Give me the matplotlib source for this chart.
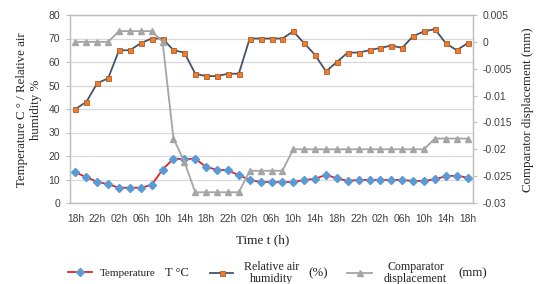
import matplotlib
matplotlib.use('Agg')
import matplotlib.pyplot as plt
import numpy as np

time_labels = ['18h', '22h', '02h', '06h', '10h', '14h'] * 3 + ['18h']
temperature = [13, 11, 9, 8, 6.5, 6.5, 6.5, 7.7, 14.2, 18.9,
               18.6, 18.9, 15.3, 14.2, 13.9, 11.8, 9.9, 8.9, 8.9, 8.9,
               8.9, 9.8, 10.3, 12.0, 10.5, 9.4, 9.8, 9.8, 9.8, 9.8,
               9.8, 9.4, 9.4, 10.1, 11.4, 11.6, 10.8]
humidity = [40, 43, 51, 53, 65, 65, 68, 70, 70, 65,
            64, 55, 54, 54, 55, 55, 70, 70, 70, 70,
            73, 68, 63, 56, 60, 64, 64, 65, 66, 67,
            66, 71, 73, 74, 68, 65, 68]
displacement = [0, 0, 0, 0, 0.002, 0.002, 0.002, 0.002, 0, -0.018,
                -0.0223, -0.028, -0.028, -0.028, -0.028, -0.028, -0.024, -0.024, -0.024, -0.024,
                -0.020, -0.020, -0.020, -0.020, -0.020, -0.020, -0.020, -0.020, -0.020, -0.020,
                -0.020, -0.020, -0.020, -0.018, -0.018, -0.018, -0.018]
left_ticks = [0, 10, 20, 30, 40, 50, 60, 70, 80]
right_ticks = [-0.03, -0.025, -0.02, -0.015, -0.01, -0.005, 0, 0.005]
right_tick_labels = ['-0.03', '-0.025', '-0.02', '-0.015', '-0.01', '-0.005', '0', '0.005']
legend_labels = ['Temperature', 'Relative air\nhumidity', 'Comparator\ndisplacement']
legend_units = ['T °C', '(%)', '(mm)']

SANS = ['Liberation Sans', 'DejaVu Sans']
SERIF = ['Liberation Serif', 'DejaVu Serif']
TICKC = '#404040'
TXTC = '#222222'

W, H = 543, 284
fig = plt.figure(figsize=(W / 100, H / 100), dpi=100)
ax = fig.add_axes([70 / W, 1 - 203 / H, 403 / W, 188 / H])
x = np.arange(len(humidity))

ax.set_xlim(-0.5, len(humidity) - 0.5)
ax.set_ylim(0, 80)
ax.set_yticks(left_ticks)
ax.grid(axis='y', color='#d9d9d9', lw=0.9)
ax.set_axisbelow(True)
for s in ax.spines.values():
    s.set_color('#bfbfbf')
    s.set_linewidth(0.9)

l1, = ax.plot(x, temperature, color='#e8201f', lw=1.3, marker='D', ms=3.8,
              mfc='#5b9bd5', mec='#5b9bd5', zorder=3)
l2, = ax.plot(x, humidity, color='#44546a', lw=1.3, marker='s', ms=3.6,
              mfc='#ed7d31', mec='#b55a1d', mew=0.6, zorder=3)

ax.set_xticks(x[::2])
ax.set_xticklabels(time_labels, family=SANS, fontsize=7.4, color=TICKC)
ax.tick_params(axis='x', length=0, pad=8)
ax.tick_params(axis='y', length=3, color='#bfbfbf', labelsize=7.5, labelcolor=TICKC, pad=4)
for t in ax.get_yticklabels():
    t.set_family(SANS)

ax2 = ax.twinx()
ax2.set_ylim(-0.03, 0.005)
ax2.set_yticks(right_ticks)
ax2.set_yticklabels(right_tick_labels, family=SANS, fontsize=7.5, color=TICKC)
ax2.tick_params(axis='y', length=3, color='#bfbfbf', pad=4)
for s in ax2.spines.values():
    s.set_color('#bfbfbf')
    s.set_linewidth(0.9)
l3, = ax2.plot(x, displacement, color='#a5a5a5', lw=1.3, marker='^', ms=4.5,
               mfc='#a5a5a5', mec='#a5a5a5', zorder=3)

fig.text(263 / W, 1 - 240 / H, 'Time t (h)', family=SERIF, fontsize=9.5,
         ha='center', va='center', color=TXTC)
fig.text(29 / W, 1 - 110 / H, 'Temperature C ° / Relative air\nhumidity %', family=SERIF,
         fontsize=9.3, rotation=90, ha='center', va='center', ma='center',
         color=TXTC, linespacing=1.15)
fig.text(528 / W, 1 - 110 / H, 'Comparator displacement (mm)', family=SERIF,
         fontsize=9.3, rotation=90, ha='center', va='center', color=TXTC)

# legend: one entry per block
leg_y = 1 - 273 / H
handle_x = [68, 210, 347]      # px, left edge of handle
handle_px = [24, 23, 25]
gap_px = [8, 11, 12]
label_sizes = [8.0, 8.6, 8.6]
unit_x = [165, 308, 458]
unit_sizes = [9.0, 9.3, 9.3]
for h, lab, hx, hp, gp, fs in zip([l1, l2, l3], legend_labels, handle_x, handle_px, gap_px, label_sizes):
    fpx = fs * 100 / 72
    lg = fig.legend([h], [lab], loc='center left', bbox_to_anchor=(hx / W, leg_y),
                    frameon=False, borderpad=0, borderaxespad=0,
                    prop={'family': SERIF, 'size': fs},
                    handlelength=hp / fpx, handletextpad=gp / fpx)
    for t in lg.get_texts():
        t.set_linespacing(0.9)
        t.set_multialignment('center')
        t.set_color(TXTC)
for ux, u, us in zip(unit_x, legend_units, unit_sizes):
    fig.text(ux / W, leg_y, u, family=SERIF, fontsize=us, ha='left', va='center', color=TXTC)

fig.savefig('out.png', dpi=100)
